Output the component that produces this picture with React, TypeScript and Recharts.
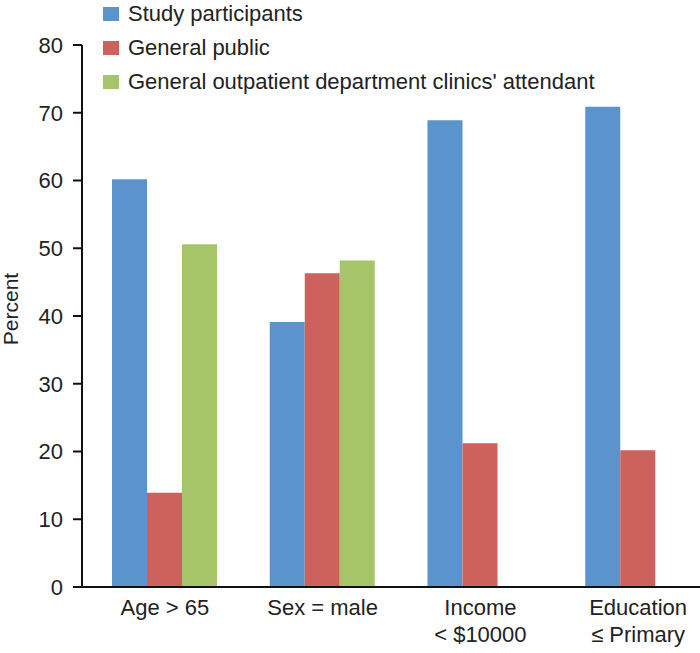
import { BarChart, Bar, XAxis, YAxis, Legend } from 'recharts'

const categories = ['Age > 65', 'Sex = male', 'Income\n< $10000', 'Education\n≤ Primary']
const studyParticipants = [60.2, 39.1, 68.9, 70.9]
const generalPublic = [13.9, 46.3, 21.2, 20.2]
const gopcAttendants: (number | null)[] = [50.6, 48.2, null, null]
const yTicks = [0, 10, 20, 30, 40, 50, 60, 70, 80]

const series = [
  { key: 'study', name: 'Study participants', color: '#5b94cc' },
  { key: 'public', name: 'General public', color: '#cc625b' },
  { key: 'gopc', name: "General outpatient department clinics' attendant", color: '#a6c468' },
]

const data = categories.map((c, i) => ({
  category: c,
  study: studyParticipants[i],
  public: generalPublic[i],
  gopc: gopcAttendants[i],
}))

const FONT = '"Liberation Sans", Arial, sans-serif'

function CategoryTick({ x, y, payload }: { x: number; y: number; payload: { value: string } }) {
  const lines = String(payload.value).split('\n')
  return (
    <text x={x} y={y} textAnchor="middle" fontSize={22} fontFamily={FONT} fill="#222">
      {lines.map((line, i) => (
        <tspan key={i} x={x} dy={i === 0 ? 20 : 27}>
          {line}
        </tspan>
      ))}
    </text>
  )
}

function LegendBox() {
  return (
    <div style={{ fontFamily: FONT, fontSize: 22, color: '#222' }}>
      {series.map((s) => (
        <div key={s.key} style={{ display: 'flex', alignItems: 'center', height: 34 }}>
          <span style={{ width: 16, height: 14, background: s.color, marginRight: 9, display: 'inline-block' }} />
          <span>{s.name}</span>
        </div>
      ))}
    </div>
  )
}

export default function App() {
  return (
    <div style={{ position: 'absolute', left: 0, top: 0, width: 700, height: 653, overflow: 'hidden', background: '#fff' }}>
      <BarChart
        width={730}
        height={653}
        data={data}
        margin={{ top: 45, right: 13, bottom: 0, left: 0 }}
        barGap={0}
        barSize={35}
      >
        <XAxis
          dataKey="category"
          axisLine={{ stroke: '#111', strokeWidth: 2 }}
          tickLine={false}
          tick={CategoryTick}
          height={66}
          interval={0}
          padding={{ left: 4, right: 0 }}
        />
        <YAxis
          domain={[0, 80]}
          ticks={yTicks}
          width={82}
          tickSize={9}
          tickMargin={10}
          axisLine={{ stroke: '#111', strokeWidth: 2 }}
          tickLine={{ stroke: '#111', strokeWidth: 2 }}
          tick={{ fontSize: 22, fontFamily: FONT, fill: '#222' }}
        />
        <Legend
          layout="vertical"
          verticalAlign="middle"
          align="center"
          content={LegendBox}
          wrapperStyle={{ position: 'absolute', top: -3, left: 103, width: 600 }}
        />
        {series.map((s) => (
          <Bar key={s.key} dataKey={s.key} name={s.name} fill={s.color} isAnimationActive={false} />
        ))}
      </BarChart>
      {/* y-axis title */}
      <svg width={30} height={120} style={{ position: 'absolute', left: 0, top: 250 }}>
        <text
          x={18}
          y={59}
          transform="rotate(-90 18 59)"
          textAnchor="middle"
          fontSize={21}
          fontFamily={FONT}
          fill="#222"
        >
          Percent
        </text>
      </svg>
    </div>
  )
}
